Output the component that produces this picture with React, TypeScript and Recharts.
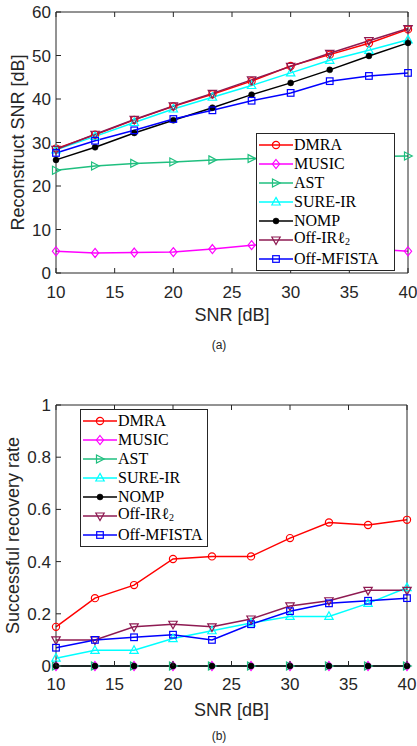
import { LineChart, Line, XAxis, YAxis, Legend, Label } from 'recharts';

// x positions (SNR in dB)
const snr = [10, 13.33, 16.67, 20, 23.33, 26.67, 30, 33.33, 36.67, 40];

// (a) reconstruct SNR [dB]
const recDMRA = [28.6, 31.8, 35.2, 38.3, 41.1, 44.1, 47.6, 50.2, 52.8, 56.0];
const recMUSIC = [5.0, 4.6, 4.7, 4.8, 5.5, 6.4, 6.6, 6.1, 5.6, 5.0];
const recAST = [23.6, 24.6, 25.2, 25.5, 26.0, 26.3, 26.5, 26.6, 26.8, 26.9];
const recSURE = [28.3, 31.4, 34.6, 37.7, 40.4, 43.1, 46.0, 48.9, 51.2, 53.6];
const recNOMP = [26.0, 28.9, 32.2, 35.1, 38.0, 41.0, 43.7, 46.7, 49.9, 52.9];
const recOffIR = [28.4, 31.9, 35.3, 38.4, 41.3, 44.4, 47.5, 50.5, 53.4, 56.2];
const recMFISTA = [27.6, 30.4, 32.8, 35.4, 37.4, 39.6, 41.4, 44.1, 45.3, 46.0];

// (b) successful recovery rate
const rateDMRA = [0.15, 0.26, 0.31, 0.41, 0.42, 0.42, 0.49, 0.55, 0.54, 0.56];
const rateMUSIC = [0, 0, 0, 0, 0, 0, 0, 0, 0, 0];
const rateAST = [0, 0, 0, 0, 0, 0, 0, 0, 0, 0];
const rateSURE = [0.03, 0.06, 0.06, 0.105, 0.135, 0.165, 0.19, 0.19, 0.24, 0.3];
const rateNOMP = [0, 0, 0, 0, 0, 0, 0, 0, 0, 0];
const rateOffIR = [0.1, 0.1, 0.15, 0.16, 0.15, 0.18, 0.23, 0.25, 0.29, 0.29];
const rateMFISTA = [0.07, 0.1, 0.11, 0.12, 0.1, 0.16, 0.21, 0.24, 0.25, 0.26];

const xTicks = [10, 15, 20, 25, 30, 35, 40];
const recTicks = [0, 10, 20, 30, 40, 50, 60];
const rateTicks = [0, 0.2, 0.4, 0.6, 0.8, 1];

const AXIS = '#262626';
const SANS = '"Liberation Sans", Arial, sans-serif';
const SERIF = '"Liberation Serif", "Times New Roman", serif';

const SERIES = [
  { key: 'dmra', name: 'DMRA', color: '#ff0000', shape: 'circle' },
  { key: 'music', name: 'MUSIC', color: '#ff00ff', shape: 'diamond' },
  { key: 'ast', name: 'AST', color: '#1fbf7f', shape: 'right' },
  { key: 'sure', name: 'SURE-IR', color: '#00ffff', shape: 'up' },
  { key: 'nomp', name: 'NOMP', color: '#000000', shape: 'dot' },
  { key: 'offir', name: 'Off-IRℓ2', color: '#8e1a52', shape: 'down' },
  { key: 'mfista', name: 'Off-MFISTA', color: '#0000ff', shape: 'square' },
];

const recData = snr.map((s, i) => ({
  snr: s, dmra: recDMRA[i], music: recMUSIC[i], ast: recAST[i], sure: recSURE[i],
  nomp: recNOMP[i], offir: recOffIR[i], mfista: recMFISTA[i],
}));
const rateData = snr.map((s, i) => ({
  snr: s, dmra: rateDMRA[i], music: rateMUSIC[i], ast: rateAST[i], sure: rateSURE[i],
  nomp: rateNOMP[i], offir: rateOffIR[i], mfista: rateMFISTA[i],
}));

function Marker({ shape, cx, cy, color }: any) {
  const sw = 1.2;
  switch (shape) {
    case 'circle':
      return <circle cx={cx} cy={cy} r={3.6} fill="none" stroke={color} strokeWidth={sw} />;
    case 'diamond':
      return <polygon points={`${cx},${cy - 4.5} ${cx + 3.6},${cy} ${cx},${cy + 4.5} ${cx - 3.6},${cy}`} fill="none" stroke={color} strokeWidth={sw} />;
    case 'right':
      return <polygon points={`${cx - 3.5},${cy - 4} ${cx + 4.2},${cy} ${cx - 3.5},${cy + 4}`} fill="none" stroke={color} strokeWidth={sw} />;
    case 'up':
      return <polygon points={`${cx},${cy - 4.6} ${cx + 4.2},${cy + 3} ${cx - 4.2},${cy + 3}`} fill="none" stroke={color} strokeWidth={sw} />;
    case 'down':
      return <polygon points={`${cx - 4.2},${cy - 3} ${cx + 4.2},${cy - 3} ${cx},${cy + 4.6}`} fill="none" stroke={color} strokeWidth={sw} />;
    case 'square':
      return <rect x={cx - 3.3} y={cy - 3.3} width={6.6} height={6.6} fill="none" stroke={color} strokeWidth={sw} />;
    default:
      return <circle cx={cx} cy={cy} r={3} fill={color} stroke={color} strokeWidth={0.5} />;
  }
}

function LegendBox({ width }: { width: number }) {
  return (
    <div style={{ width, boxSizing: 'border-box', border: `1px solid ${AXIS}`, background: '#fff', padding: '1px 0 2px 2px' }}>
      {SERIES.map((s) => (
        <div key={s.key} style={{ display: 'flex', alignItems: 'center', height: 19 }}>
          <svg width={34} height={14} style={{ flex: 'none' }}>
            <line x1={0} y1={7} x2={34} y2={7} stroke={s.color} strokeWidth={1.5} />
            <Marker shape={s.shape} cx={17} cy={7} color={s.color} />
          </svg>
          <span style={{ fontFamily: SERIF, fontSize: 16, color: '#000', marginLeft: 1, lineHeight: '19px', whiteSpace: 'nowrap' }}>
            {s.key === 'offir' ? (<>Off-IRℓ<sub style={{ fontSize: 10, verticalAlign: -2 }}>2</sub></>) : s.name}
          </span>
        </div>
      ))}
    </div>
  );
}

function BottomTick({ x, y, payload, off }: any) {
  return (
    <g>
      <line x1={x} y1={y} x2={x} y2={y - 5} stroke={AXIS} />
      <text x={x} y={y + off} textAnchor="middle" fontFamily={SANS} fontSize={17} fill={AXIS}>{payload.value}</text>
    </g>
  );
}
function TopTick({ x, y }: any) {
  return <line x1={x} y1={y} x2={x} y2={y + 5} stroke={AXIS} />;
}
function LeftTick({ x, y, payload }: any) {
  return (
    <g>
      <line x1={x} y1={y} x2={x + 5} y2={y} stroke={AXIS} />
      <text x={x - 5} y={y + 6} textAnchor="end" fontFamily={SANS} fontSize={17} fill={AXIS}>{String(payload.value)}</text>
    </g>
  );
}
function RightTick({ x, y }: any) {
  return <line x1={x} y1={y} x2={x - 5} y2={y} stroke={AXIS} />;
}

function Panel({ data, yTicks, yMax, yLabel, yLabelX, caption, legendLeft, legendTop, legendWidth, top, bottom, right, tickOff, labelOff, capOff }: any) {
  return (
    <div style={{ position: 'relative', width: 417, height: 373 }}>
      <LineChart width={417} height={373} data={data} margin={{ top: top - 1, right: right - 1, bottom: 0, left: 0 }}>
        <XAxis dataKey="snr" type="number" domain={[10, 40]} ticks={xTicks} height={bottom} stroke={AXIS}
          tickLine={false} tickSize={0} tickMargin={0} tick={(p: any) => <BottomTick {...p} off={tickOff} />}>
          <Label content={({ viewBox }: any) => (
            <g>
              <text x={viewBox.x + viewBox.width / 2} y={viewBox.y + labelOff} textAnchor="middle" fontFamily={SANS} fontSize={18} fill={AXIS}>SNR [dB]</text>
              <text x={219} y={viewBox.y + capOff} textAnchor="middle" fontFamily={SANS} fontSize={12} fill={AXIS}>{caption}</text>
            </g>
          )} />
        </XAxis>
        <XAxis xAxisId="top" orientation="top" dataKey="snr" type="number" domain={[10, 40]} ticks={xTicks} height={1} stroke={AXIS}
          tickLine={false} tickSize={0} tickMargin={0} tick={(p: any) => <TopTick {...p} />} />
        <YAxis type="number" domain={[0, yMax]} ticks={yTicks} width={56} stroke={AXIS}
          tickLine={false} tickSize={0} tickMargin={0} tick={(p: any) => <LeftTick {...p} />}>
          <Label content={({ viewBox }: any) => {
            const cy = viewBox.y + viewBox.height / 2;
            return (
              <text x={yLabelX} y={cy} transform={`rotate(-90 ${yLabelX} ${cy})`} textAnchor="middle" dominantBaseline="central" fontFamily={SANS} fontSize={18} fill={AXIS}>{yLabel}</text>
            );
          }} />
        </YAxis>
        <YAxis yAxisId="right" orientation="right" type="number" domain={[0, yMax]} ticks={yTicks} width={1} stroke={AXIS}
          tickLine={false} tickSize={0} tickMargin={0} tick={(p: any) => <RightTick {...p} />} />
        {SERIES.map((s) => (
          <Line key={s.key} dataKey={s.key} name={s.name} stroke={s.color} strokeWidth={1.5} isAnimationActive={false}
            activeDot={false}
            dot={(p: any) => <Marker key={`${s.key}-${p.index}`} shape={s.shape} cx={p.cx} cy={p.cy} color={s.color} />} />
        ))}
        <Legend layout="vertical" align="center" verticalAlign="middle"
          wrapperStyle={{ left: legendLeft, top: legendTop, width: legendWidth }}
          content={() => <LegendBox width={legendWidth} />} />
      </LineChart>
    </div>
  );
}

export default function App() {
  return (
    <div style={{ width: 417, height: 746, background: '#fff' }}>
      <style>{'body { margin: 0; }'}</style>
      <Panel data={recData} yTicks={recTicks} yMax={60} yLabel="Reconstruct SNR [dB]" yLabelX={17.5} caption="(a)"
        legendLeft={256} legendTop={133} legendWidth={139} top={12} bottom={100} right={9}
        tickOff={25} labelOff={48} capOff={76} />
      <Panel data={rateData} yTicks={rateTicks} yMax={1} yLabel="Successful recovery rate" yLabelX={13} caption="(b)"
        legendLeft={80} legendTop={36} legendWidth={128} top={32} bottom={80} right={10}
        tickOff={24} labelOff={50} capOff={74} />
    </div>
  );
}
